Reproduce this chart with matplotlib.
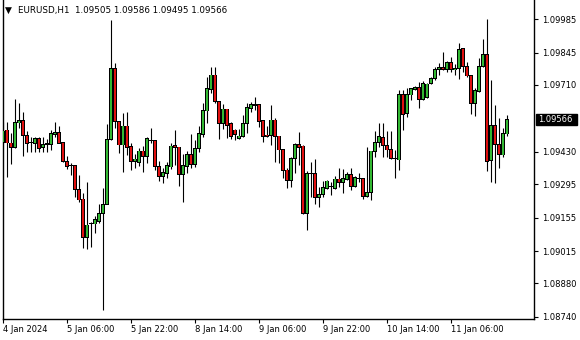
import matplotlib
matplotlib.use("Agg")
import matplotlib.pyplot as plt
import matplotlib.transforms as mtransforms
from matplotlib.patches import Rectangle

symbol = "EURUSD,H1"

opens = [
    1.09471, 1.09521, 1.09467, 1.09448, 1.09551, 1.09559, 1.09498, 1.09468, 1.09466, 1.09487,
    1.09448, 1.09461, 1.09462, 1.09503, 1.09512, 1.09468, 1.09391, 1.09374, 1.09371, 1.09274,
    1.09233, 1.09071, 1.09131, 1.09129, 1.09139, 1.09173, 1.09211, 1.09482, 1.09779, 1.09556,
    1.09459, 1.09538, 1.09451, 1.09391, 1.09386, 1.09433, 1.09410, 1.09477, 1.09478, 1.09370,
    1.09326, 1.09340, 1.09367, 1.09457, 1.09450, 1.09336, 1.09369, 1.09420, 1.09378, 1.09445,
    1.09503, 1.09601, 1.09691, 1.09751, 1.09641, 1.09549, 1.09609, 1.09549, 1.09521, 1.09487,
    1.09493, 1.09549, 1.09612, 1.09625, 1.09626, 1.09559, 1.09500, 1.09497, 1.09563, 1.09496,
    1.09441, 1.09354, 1.09309, 1.09403, 1.09459, 1.09454, 1.09173, 1.09340, 1.09341, 1.09239,
    1.09251, 1.09278, 1.09284, 1.09278, 1.09316, 1.09301, 1.09316, 1.09336, 1.09287, 1.09319,
    1.09320, 1.09243, 1.09259, 1.09431, 1.09470, 1.09489, 1.09456, 1.09438, 1.09400, 1.09396,
    1.09670, 1.09591, 1.09668, 1.09691, 1.09700, 1.09650, 1.09658, 1.09716, 1.09737, 1.09775,
    1.09783, 1.09776, 1.09802, 1.09772, 1.09779, 1.09860, 1.09786, 1.09747, 1.09633, 1.09684,
    1.09786, 1.09835, 1.09393, 1.09539, 1.09462, 1.09417, 1.09505]

highs = [
    1.09555, 1.09555, 1.09509, 1.09651, 1.09635, 1.09597, 1.09517, 1.09492, 1.09493, 1.09492,
    1.09492, 1.09484, 1.09521, 1.09556, 1.09539, 1.09469, 1.09414, 1.09384, 1.09372, 1.09333,
    1.09257, 1.09303, 1.09138, 1.09163, 1.09211, 1.09278, 1.09545, 1.09981, 1.09802, 1.09557,
    1.09592, 1.09597, 1.09465, 1.09420, 1.09448, 1.09454, 1.09492, 1.09528, 1.09479, 1.09392,
    1.09361, 1.09388, 1.09465, 1.09521, 1.09451, 1.09420, 1.09433, 1.09505, 1.09480, 1.09538,
    1.09636, 1.09744, 1.09786, 1.09786, 1.09642, 1.09629, 1.09610, 1.09556, 1.09524, 1.09524,
    1.09584, 1.09636, 1.09640, 1.09661, 1.09630, 1.09560, 1.09538, 1.09626, 1.09570, 1.09497,
    1.09442, 1.09361, 1.09410, 1.09465, 1.09514, 1.09459, 1.09351, 1.09389, 1.09400, 1.09283,
    1.09308, 1.09312, 1.09305, 1.09329, 1.09364, 1.09357, 1.09347, 1.09361, 1.09329, 1.09343,
    1.09321, 1.09451, 1.09434, 1.09517, 1.09549, 1.09549, 1.09517, 1.09517, 1.09438, 1.09688,
    1.09688, 1.09695, 1.09698, 1.09705, 1.09723, 1.09726, 1.09716, 1.09744, 1.09786, 1.09802,
    1.09848, 1.09810, 1.09827, 1.09797, 1.09883, 1.09865, 1.09807, 1.09751, 1.09695, 1.09823,
    1.09901, 1.09985, 1.09730, 1.09626, 1.09573, 1.09528, 1.09586]

lows = [
    1.09467, 1.09325, 1.09379, 1.09446, 1.09530, 1.09414, 1.09429, 1.09429, 1.09429, 1.09429,
    1.09429, 1.09429, 1.09438, 1.09492, 1.09465, 1.09388, 1.09360, 1.09334, 1.09243, 1.09219,
    1.09030, 1.09024, 1.09034, 1.09092, 1.09132, 1.08769, 1.09210, 1.09481, 1.09528, 1.09426,
    1.09347, 1.09417, 1.09353, 1.09361, 1.09369, 1.09347, 1.09383, 1.09466, 1.09354, 1.09309,
    1.09301, 1.09319, 1.09358, 1.09375, 1.09287, 1.09222, 1.09340, 1.09364, 1.09368, 1.09431,
    1.09491, 1.09549, 1.09677, 1.09633, 1.09482, 1.09525, 1.09489, 1.09482, 1.09479, 1.09482,
    1.09491, 1.09510, 1.09598, 1.09605, 1.09532, 1.09472, 1.09490, 1.09459, 1.09386, 1.09384,
    1.09322, 1.09280, 1.09282, 1.09340, 1.09375, 1.09172, 1.09103, 1.09243, 1.09214, 1.09198,
    1.09240, 1.09274, 1.09250, 1.09274, 1.09284, 1.09259, 1.09312, 1.09271, 1.09284, 1.09305,
    1.09233, 1.09242, 1.09227, 1.09410, 1.09449, 1.09410, 1.09410, 1.09400, 1.09320, 1.09354,
    1.09521, 1.09577, 1.09647, 1.09690, 1.09612, 1.09647, 1.09654, 1.09713, 1.09730, 1.09751,
    1.09772, 1.09765, 1.09765, 1.09751, 1.09734, 1.09765, 1.09744, 1.09587, 1.09581, 1.09682,
    1.09785, 1.09351, 1.09305, 1.09298, 1.09364, 1.09410, 1.09495]

closes = [
    1.09517, 1.09467, 1.09448, 1.09551, 1.09559, 1.09497, 1.09466, 1.09471, 1.09487, 1.09445,
    1.09462, 1.09463, 1.09505, 1.09512, 1.09466, 1.09389, 1.09368, 1.09373, 1.09274, 1.09229,
    1.09071, 1.09124, 1.09132, 1.09146, 1.09173, 1.09208, 1.09482, 1.09779, 1.09556, 1.09459,
    1.09538, 1.09450, 1.09389, 1.09400, 1.09433, 1.09410, 1.09484, 1.09478, 1.09368, 1.09327,
    1.09342, 1.09371, 1.09454, 1.09448, 1.09336, 1.09371, 1.09420, 1.09378, 1.09445, 1.09505,
    1.09601, 1.09694, 1.09751, 1.09640, 1.09549, 1.09609, 1.09542, 1.09493, 1.09503, 1.09496,
    1.09549, 1.09614, 1.09626, 1.09626, 1.09556, 1.09493, 1.09493, 1.09563, 1.09493, 1.09438,
    1.09351, 1.09309, 1.09403, 1.09459, 1.09447, 1.09173, 1.09340, 1.09341, 1.09239, 1.09251,
    1.09280, 1.09308, 1.09285, 1.09316, 1.09301, 1.09320, 1.09336, 1.09287, 1.09322, 1.09320,
    1.09243, 1.09259, 1.09433, 1.09470, 1.09493, 1.09456, 1.09438, 1.09403, 1.09401, 1.09670,
    1.09587, 1.09668, 1.09693, 1.09700, 1.09650, 1.09716, 1.09713, 1.09737, 1.09775, 1.09783,
    1.09775, 1.09802, 1.09775, 1.09779, 1.09856, 1.09786, 1.09747, 1.09633, 1.09685, 1.09786,
    1.09835, 1.09389, 1.09539, 1.09462, 1.09420, 1.09507, 1.09566]

x_tick_bars = [0, 16, 32, 48, 64, 80, 96, 112]
x_tick_labels = ["4 Jan 2024", "5 Jan 06:00", "5 Jan 22:00", "8 Jan 14:00",
                 "9 Jan 06:00", "9 Jan 22:00", "10 Jan 14:00", "11 Jan 06:00"]
y_ticks = [1.09985, 1.09845, 1.09710, 1.09430, 1.09295, 1.09155, 1.09015, 1.08880, 1.08740]
y_tick_labels = ["1.09985", "1.09845", "1.09710", "1.09430", "1.09295",
                 "1.09155", "1.09015", "1.08880", "1.08740"]
current_price = 1.09566

UP = "#33b833"
DOWN = "#e01010"
FS = 6.0

plt.rcParams['font.family'] = ['DejaVu Sans']
W, H = 580, 340
fig = plt.figure(figsize=(W / 100, H / 100), dpi=100)
fig.patch.set_facecolor("white")
ax = fig.add_axes([2.7 / W, 21 / H, 531.5 / W, 319 / H])
ax.set_facecolor("white")

n = len(opens)
xs = list(range(n))
ax.vlines(xs, lows, highs, color="black", linewidth=0.8, zorder=2)
bottoms = [min(o, c) for o, c in zip(opens, closes)]
heights = [max(abs(c - o), 0.000005) for o, c in zip(opens, closes)]
colors = [UP if c >= o else DOWN for o, c in zip(opens, closes)]
# outer black body then coloured inner body
ax.bar(xs, [h + 0.00004 for h in heights], bottom=[b - 0.00002 for b in bottoms],
       width=0.8, color="black", linewidth=0, zorder=3)
inner_h = [max(h - 0.00003, 0) for h in heights]
ax.bar(xs, inner_h, bottom=[b + 0.000015 for b in bottoms],
       width=0.4, color=colors, linewidth=0, zorder=4)

ax.set_xlim(-0.05, 132.8)
ax.set_ylim(1.087316, 1.100644)

for s in ax.spines.values():
    s.set_color("black")
    s.set_linewidth(1.0)
ax.spines["top"].set_visible(False)

ax.set_xticks(x_tick_bars)
ax.set_xticklabels(x_tick_labels, ha="left", fontsize=FS)
ax.tick_params(axis="x", direction="out", length=3, width=0.8, pad=1.5, colors="black")

ax.yaxis.tick_right()
ax.set_yticks(y_ticks)
ax.set_yticklabels(y_tick_labels, fontsize=FS)
ax.tick_params(axis="y", direction="out", length=3, width=0.8, pad=3, colors="black")

# current price label
trans = mtransforms.blended_transform_factory(fig.transFigure, ax.transData)
ph = 11 * (1.100644 - 1.087316) / 319
ax.add_patch(Rectangle((536 / W, current_price - ph / 2), 41 / W, ph,
                       transform=trans, facecolor="black", edgecolor="black",
                       clip_on=False, zorder=5))
ax.text(538.5 / W, current_price, f"{current_price:.5f}", transform=trans,
        color="white", fontsize=FS, va="center", ha="left", zorder=6, clip_on=False)

# header
fig.text(8 / W, 1 - 10 / H, "▼", fontsize=6.5, va="center", ha="center", color="black")
fig.text(18 / W, 1 - 10 / H,
         f"{symbol}  {opens[-1]:.5f} {highs[-1]:.5f} {lows[-1]:.5f} {closes[-1]:.5f}",
         fontsize=6.3, va="center", ha="left", color="black")

fig.savefig("out.png", dpi=100, facecolor="white")
